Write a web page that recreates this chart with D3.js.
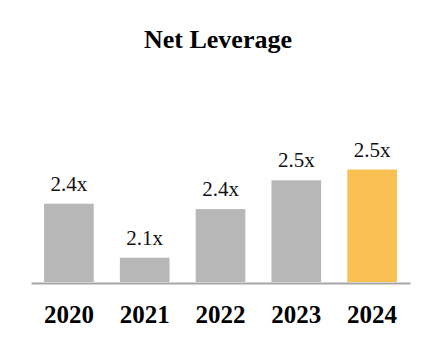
<!DOCTYPE html>
<html>
<head>
<meta charset="utf-8">
<script src="https://cdn.jsdelivr.net/npm/d3@7"></script>
<style>
  body { margin: 0; background: #fff; }
  text { font-family: "Liberation Serif", "Times New Roman", serif; }
</style>
</head>
<body>
<svg id="chart" width="440" height="360"></svg>
<script>
const years = ['2020', '2021', '2022', '2023', '2024'];
const leverage = [2.40, 2.10, 2.37, 2.53, 2.59];
const labels = ['2.4x', '2.1x', '2.4x', '2.5x', '2.5x'];

const svg = d3.select('#chart');
const base = 282;

const x = d3.scaleBand()
  .domain(years)
  .range([31, 410])
  .paddingInner(0.345)
  .paddingOuter(0.1725);

// axis does not start at zero in the original
const y = d3.scaleLinear()
  .domain([1.965, 2.6])
  .range([base, base - 0.635 * 180]);

const colorByYear = (yr) => (yr === '2024' ? '#f9c152' : '#b7b7b7');

svg.append('text')
  .attr('x', 218)
  .attr('y', 48)
  .attr('text-anchor', 'middle')
  .style('font-size', '26px')
  .style('font-weight', 'bold')
  .text('Net Leverage');

svg.selectAll('rect.bar')
  .data(leverage)
  .enter().append('rect')
  .attr('class', 'bar')
  .attr('x', (_, i) => x(years[i]))
  .attr('y', (d) => y(d))
  .attr('width', x.bandwidth())
  .attr('height', (d) => base - y(d))
  .attr('fill', (_, i) => colorByYear(years[i]));

svg.selectAll('text.val')
  .data(leverage)
  .enter().append('text')
  .attr('class', 'val')
  .attr('x', (_, i) => x(years[i]) + x.bandwidth() / 2)
  .attr('y', (d) => y(d) - 13)
  .attr('text-anchor', 'middle')
  .style('font-size', '21px')
  .style('fill', '#111')
  .text((_, i) => labels[i]);

/// x axis: line + bold year labels
const axis = svg.append('g')
  .attr('transform', `translate(0,${base + 1})`)
  .call(d3.axisBottom(x).tickSize(0).tickPadding(22));
axis.select('.domain')
  .attr('stroke', '#a6a6a6')
  .attr('stroke-width', 2);
axis.selectAll('text')
  .style('font-family', '"Liberation Serif", "Times New Roman", serif')
  .style('font-size', '25px')
  .style('font-weight', 'bold')
  .style('fill', '#000');
</script>
</body>
</html>
